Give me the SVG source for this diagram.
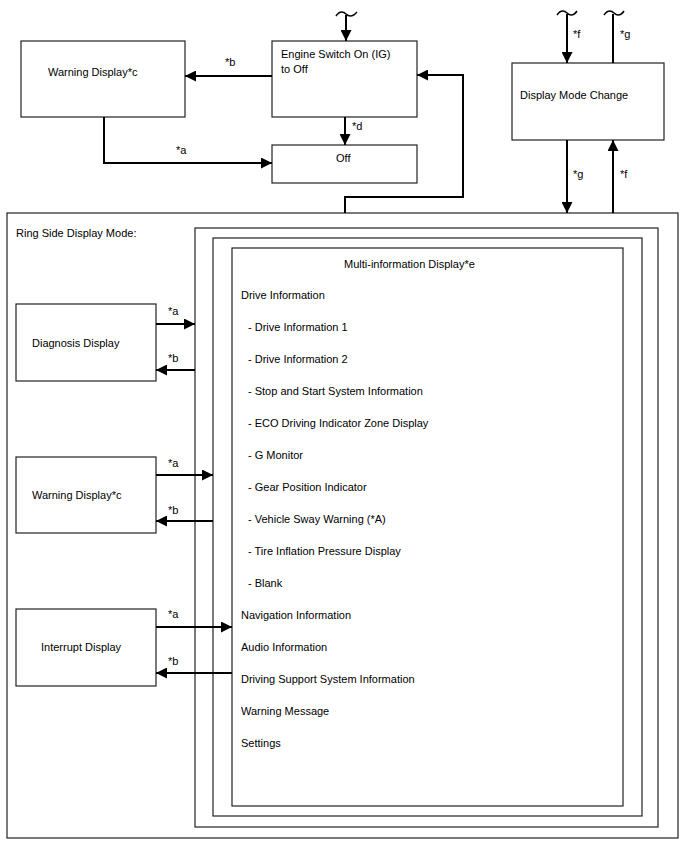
<svg xmlns="http://www.w3.org/2000/svg" width="688" height="852" viewBox="0 0 688 852">
<style>
.box{fill:#fff;stroke:#222;stroke-width:1.2}
.frame{fill:none;stroke:#222;stroke-width:1.2}
.t{font-family:"Liberation Sans",Arial,sans-serif;font-size:11px;fill:#000}
.c{fill:none;stroke:#000;stroke-width:2}
.tl{fill:none;stroke:#000;stroke-width:1.5}
</style>
<defs>
<marker id="ah" markerUnits="userSpaceOnUse" markerWidth="11" markerHeight="11" refX="11" refY="5.5" orient="auto">
<path d="M0,0 L11,5.5 L0,11 z" fill="#000"/>
</marker>
</defs>
<rect width="688" height="852" fill="#fff"/>

<g id="ring-side">
<rect class="frame" x="7" y="213" width="671" height="625"/>
<text class="t" x="16" y="237">Ring Side Display Mode:</text>
</g>
<g id="frame-outer">
<rect class="frame" x="195" y="228" width="463" height="599"/>
</g>
<g id="frame-middle">
<rect class="frame" x="213" y="238" width="429" height="578"/>
</g>
<g id="multi-info">
<rect class="box" x="232" y="248" width="391" height="558"/>
<text class="t" x="344" y="268">Multi-information Display*e</text>
<text class="t" x="241" y="299">Drive Information</text>
<text class="t" x="248" y="331">- Drive Information 1</text>
<text class="t" x="248" y="363">- Drive Information 2</text>
<text class="t" x="248" y="395">- Stop and Start System Information</text>
<text class="t" x="248" y="427">- ECO Driving Indicator Zone Display</text>
<text class="t" x="248" y="459">- G Monitor</text>
<text class="t" x="248" y="491">- Gear Position Indicator</text>
<text class="t" x="248" y="523">- Vehicle Sway Warning (*A)</text>
<text class="t" x="248" y="555">- Tire Inflation Pressure Display</text>
<text class="t" x="248" y="587">- Blank</text>
<text class="t" x="241" y="619">Navigation Information</text>
<text class="t" x="241" y="651">Audio Information</text>
<text class="t" x="241" y="683">Driving Support System Information</text>
<text class="t" x="241" y="715">Warning Message</text>
<text class="t" x="241" y="747">Settings</text>
</g>

<g id="warning-top">
<rect class="box" x="21" y="41" width="164" height="76"/>
<text class="t" x="48" y="76">Warning Display*c</text>
</g>
<g id="engine-switch">
<rect class="box" x="272" y="41" width="145" height="76"/>
<text class="t" x="281" y="58">Engine Switch On (IG)</text>
<text class="t" x="281" y="73">to Off</text>
</g>
<g id="off">
<rect class="box" x="272" y="145" width="145" height="38"/>
<text class="t" x="336" y="162">Off</text>
</g>
<g id="display-mode-change">
<rect class="box" x="512" y="63" width="152" height="77"/>
<text class="t" x="520" y="99">Display Mode Change</text>
</g>
<g id="diagnosis">
<rect class="box" x="16" y="304" width="140" height="77"/>
<text class="t" x="32" y="347">Diagnosis Display</text>
</g>
<g id="warning-lower">
<rect class="box" x="16" y="457" width="140" height="76"/>
<text class="t" x="32" y="499">Warning Display*c</text>
</g>
<g id="interrupt">
<rect class="box" x="16" y="609" width="140" height="77"/>
<text class="t" x="41" y="651">Interrupt Display</text>
</g>

<g id="connectors">
<path class="tl" d="M336,16 C340,10 344,12 346,14 C348,16 352,18 357,12"/>
<path class="c" d="M346,15 V41" marker-end="url(#ah)"/>
<path class="c" d="M272,76 H185" marker-end="url(#ah)"/>
<text class="t" x="225" y="66">*b</text>
<path class="c" d="M345,117 V145" marker-end="url(#ah)"/>
<text class="t" x="352" y="130">*d</text>
<path class="c" d="M104,117 V163 H272" marker-end="url(#ah)"/>
<text class="t" x="176" y="154">*a</text>
<path class="c" d="M345,213 V197 H463 V75 H417" marker-end="url(#ah)"/>

<path class="tl" d="M557,15 C561,9 565,11 567,13 C569,15 573,17 577,11"/>
<path class="c" d="M567,14 V63" marker-end="url(#ah)"/>
<text class="t" x="573" y="38">*f</text>
<path class="tl" d="M604,15 C608,9 612,11 614,13 C616,15 620,17 624,11"/>
<path class="c" d="M613,63 V14"/>
<text class="t" x="620" y="38">*g</text>
<path class="c" d="M567,140 V213" marker-end="url(#ah)"/>
<text class="t" x="573" y="178">*g</text>
<path class="c" d="M613,213 V140" marker-end="url(#ah)"/>
<text class="t" x="620" y="178">*f</text>

<path class="c" d="M156,324 H195" marker-end="url(#ah)"/>
<text class="t" x="168" y="315">*a</text>
<path class="c" d="M195,370 H156" marker-end="url(#ah)"/>
<text class="t" x="168" y="362">*b</text>
<path class="c" d="M156,475 H213" marker-end="url(#ah)"/>
<text class="t" x="168" y="467">*a</text>
<path class="c" d="M213,521 H156" marker-end="url(#ah)"/>
<text class="t" x="168" y="514">*b</text>
<path class="c" d="M156,627 H232" marker-end="url(#ah)"/>
<text class="t" x="168" y="618">*a</text>
<path class="c" d="M232,673 H156" marker-end="url(#ah)"/>
<text class="t" x="168" y="665">*b</text>
</g>
</svg>
